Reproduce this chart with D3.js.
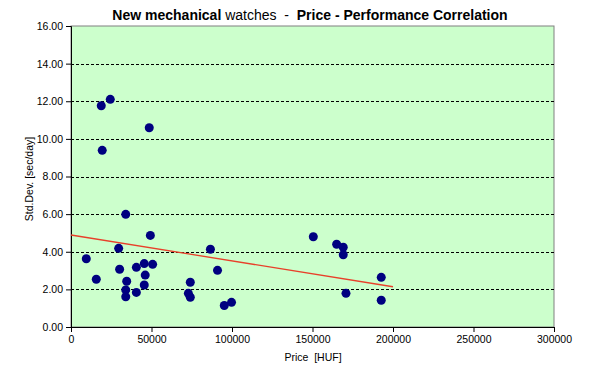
<!DOCTYPE html>
<html>
<head>
<meta charset="utf-8">
<script src="https://cdn.jsdelivr.net/npm/d3@7"></script>
<style>
  body { margin: 0; background: #fff; }
  text { font-family: "Liberation Sans", Arial, sans-serif; }
</style>
</head>
<body>
<div id="chart"></div>
<script>
// prices [HUF] and std.dev [sec/day]
const price = [9500, 15700, 18800, 19400, 24400, 29600, 30200, 34000, 34600, 34000,
  34000, 40600, 40600, 45500, 46100, 45500, 50700, 49300, 48600, 74100,
  72900, 74100, 86600, 91000, 95200, 99700, 150500, 165000, 169100, 169100,
  170800, 192700, 192700];
const stdDev = [3.63, 2.54, 11.76, 9.39, 12.10, 4.18, 3.07, 5.99, 2.43, 1.97,
  1.61, 1.84, 3.17, 3.37, 2.76, 2.23, 3.33, 4.87, 10.59, 2.38,
  1.79, 1.58, 4.13, 3.01, 1.14, 1.31, 4.80, 4.40, 4.24, 3.84,
  1.79, 2.64, 1.42];
// trend line ends
const trendX = [0, 200000];
const trendY = [4.89, 2.14];

const xTicks = [0, 50000, 100000, 150000, 200000, 250000, 300000];
const yTicks = [0, 2, 4, 6, 8, 10, 12, 14, 16];

const width = 590, height = 370;
const margin = { top: 26, right: 36, bottom: 43, left: 71 };
const w = width - margin.left - margin.right;
const h = height - margin.top - margin.bottom;

const svg = d3.select("#chart").append("svg")
  .attr("width", width)
  .attr("height", height);

const g = svg.append("g")
  .attr("transform", `translate(${margin.left},${margin.top})`);

const x = d3.scaleLinear().domain([0, 300000]).range([0, w]);
const y = d3.scaleLinear().domain([0, 16]).range([h, 0]);

// plot area
g.append("rect")
  .attr("width", w)
  .attr("height", h)
  .attr("fill", "#ccffcc")
  .attr("stroke", "#808080")
  .attr("stroke-width", 1);

// dashed gridlines
g.selectAll(".grid")
  .data(yTicks.filter(d => d > 0 && d < 16))
  .enter().append("line")
  .attr("x1", 0)
  .attr("x2", w)
  .attr("y1", d => Math.round(y(d)) + 0.5)
  .attr("y2", d => Math.round(y(d)) + 0.5)
  .attr("stroke", "#000")
  .attr("stroke-dasharray", "3,2");

// axes
const yAxis = g.append("g")
  .call(d3.axisLeft(y).tickValues(yTicks).tickFormat(d3.format(".2f")).tickSize(5).tickPadding(3));
const xAxis = g.append("g")
  .attr("transform", `translate(0,${h})`)
  .call(d3.axisBottom(x).tickValues(xTicks).tickFormat(d3.format("d")).tickSize(5).tickPadding(4));

[yAxis, xAxis].forEach(a => {
  a.select(".domain").attr("stroke", "#000");
  a.selectAll("line").attr("stroke", "#000");
  a.selectAll("text")
    .style("font-size", "10.5px")
    .attr("fill", "#000");
});

// trend line
const line = d3.line().x(d => x(d[0])).y(d => y(d[1]));
g.append("path")
  .datum(trendX.map((d, i) => [d, trendY[i]]))
  .attr("d", line)
  .attr("fill", "none")
  .attr("stroke", "#e8402a")
  .attr("stroke-width", 1.3);

// points
g.selectAll(".dot")
  .data(price.map((d, i) => [d, stdDev[i]]))
  .enter().append("circle")
  .attr("cx", d => x(d[0]))
  .attr("cy", d => y(d[1]))
  .attr("r", 4.5)
  .attr("fill", "#000080");

// title
const title = svg.append("text")
  .attr("x", 310)
  .attr("y", 20)
  .attr("text-anchor", "middle")
  .style("font-size", "14px")
  .style("white-space", "pre")
  .attr("fill", "#000");
title.append("tspan").attr("font-weight", "bold").text("New mechanical");
title.append("tspan").text(" watches  -  ");
title.append("tspan").attr("font-weight", "bold").text("Price - Performance Correlation");

// axis titles
svg.append("text")
  .attr("x", 313)
  .attr("y", 361)
  .attr("text-anchor", "middle")
  .style("font-size", "10.5px")
  .style("white-space", "pre")
  .text("Price  [HUF]");

svg.append("text")
  .attr("transform", "translate(33,179) rotate(-90)")
  .attr("text-anchor", "middle")
  .style("font-size", "10.5px")
  .text("Std.Dev. [sec/day]");
</script>
</body>
</html>
